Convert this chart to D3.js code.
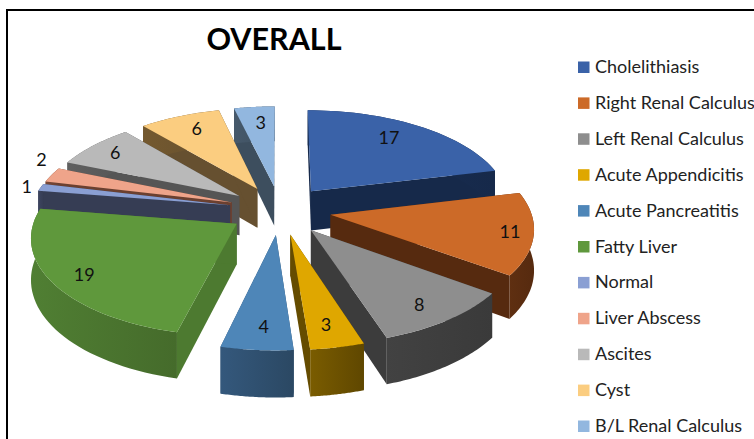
<!DOCTYPE html>
<html><head><meta charset="utf-8">
<script src="https://cdn.jsdelivr.net/npm/d3@7/dist/d3.min.js"></script>
<style>html,body{margin:0;padding:0;background:#fff;overflow:hidden}svg{display:block}text{font-family:Lato,"Open Sans",sans-serif}</style>
</head><body><svg id="c" width="754" height="439"></svg>
<script>
const categories=["Cholelithiasis","Right Renal Calculus","Left Renal Calculus","Acute Appendicitis","Acute Pancreatitis","Fatty Liver","Normal","Liver Abscess","Ascites","Cyst","B/L Renal Calculus"];
const values=[17,11,8,3,4,19,1,2,6,6,3];
const topColors=["#3a62a8","#cc6a28","#8e8e8e","#dfa700","#4e86b8","#5f983c","#8a9fd3","#efa48a","#b9b9b9","#fbcd80","#92b7df"];
const wallColors=["#16294a","#562a0f","#3c3c3c","#654c00","#2f5070","#4d7a30","#363d54","#6b4030","#555555","#665030","#3d4e5e"];
const rimLight=["#1a3057","#5f2f11","#424242","#7a5c00","#34587c","#507f33","#3d4560","#7a4a38","#606060","#74592f","#46596b"];
const rimDark=["#16294a","#562a0f","#3a3a3a","#5f4700","#2b4863","#456b2b","#363d54","#6b4030","#555555","#665030","#3d4e5e"];
const labelPos=[.8,.9,.8,.8,.82,.82,1.07,1.1,.82,.8,.76];
const labelNudge=[[-10,0],[-3,0],[1,5],[-1,3],[3,0],[-3,4],[-1,1],[7,-12],[-3,-1],[3,-1],[2,-2]];

const W=754,H=439,cx=280,cy=210,R=200,Ry=95,persp=.12,explode=.256,depth=40;
const svg=d3.select("#c");
const sx=d3.scaleLinear().domain([-1,1]).range([-R,R]);
const sz=d3.scaleLinear().domain([-1,1]).range([Ry,-Ry]);
const k=Z=>1/(1+persp*Z);
const proj=(X,Z,low)=>{const s=k(Z);return [cx+sx(X)*s, cy+sz(Z)*s+(low?depth*s:0)];};
const pie=d3.pie().sort(null).value(d=>d).startAngle(0).endAngle(2*Math.PI);
const arcs=pie(values).map((a,i)=>{const m=(a.startAngle+a.endAngle)/2;return {...a,i,m,ox:explode*Math.sin(m),oz:explode*Math.cos(m)};});
const pt=(a,th,r,low)=>proj(a.ox+r*Math.sin(th),a.oz+r*Math.cos(th),low);
const rimPts=(a,low)=>d3.range(0,41).map(j=>pt(a,a.startAngle+(a.endAngle-a.startAngle)*j/40,1,low));
const line=d3.line();
const defs=svg.append("defs");

// chart frame
svg.append("rect").attr("x",7).attr("y",10).attr("width",800).attr("height",500).attr("fill","#fff").attr("stroke","#000").attr("stroke-width",2);

// title
svg.append("text").attr("x",274).attr("y",50).attr("text-anchor","middle").attr("font-size",30.5).attr("font-weight",700).attr("fill","#000").text("OVERALL");

// back to front
const order=arcs.slice().sort((a,b)=>b.oz-a.oz);
const gs=svg.append("g").selectAll("g").data(order).join("g");
gs.each(function(a){
  const g=d3.select(this),i=a.i;
  const top=rimPts(a,false),low=rimPts(a,true);
  const x0=d3.min(top,p=>p[0]),x1=d3.max(top,p=>p[0]);
  const grad=defs.append("linearGradient").attr("id","rim"+i).attr("gradientUnits","userSpaceOnUse").attr("x1",x0).attr("x2",x1).attr("y1",0).attr("y2",0);
  grad.append("stop").attr("offset",0).attr("stop-color",rimLight[i]);
  grad.append("stop").attr("offset",1).attr("stop-color",rimDark[i]);
  const apexT=proj(a.ox,a.oz,false),apexL=proj(a.ox,a.oz,true);
  [[a.startAngle],[a.endAngle]].forEach(([th])=>{
    g.append("path").attr("d",line([apexT,pt(a,th,1,false),pt(a,th,1,true),apexL])+"Z").attr("fill",wallColors[i]);
  });
  g.append("path").attr("d",line(top.concat(low.slice().reverse()))+"Z").attr("fill","url(#rim"+i+")");
  g.append("path").attr("d",line([apexT].concat(top))+"Z").attr("fill",topColors[i]);
});

// data labels
svg.append("g").selectAll("text").data(arcs).join("text")
  .attr("x",a=>pt(a,a.m,labelPos[a.i],false)[0]+labelNudge[a.i][0])
  .attr("y",a=>pt(a,a.m,labelPos[a.i],false)[1]+labelNudge[a.i][1]+6)
  .attr("text-anchor","middle").attr("font-size",18).attr("fill","#111").text(a=>a.value);

// legend
const ly=d3.scalePoint().domain(categories).range([67,426]);
const lg=svg.append("g").selectAll("g").data(categories).join("g").attr("transform",d=>`translate(0,${ly(d)})`);
lg.append("rect").attr("x",578).attr("y",-5.5).attr("width",11.5).attr("height",11.5).attr("fill",(d,i)=>topColors[i]);
lg.append("text").attr("x",595).attr("y",6).attr("font-size",18).attr("fill","#222").text(d=>d);
</script></body></html>
